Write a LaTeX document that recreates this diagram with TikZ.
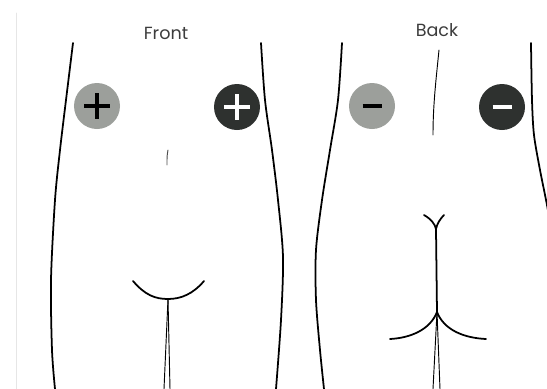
\documentclass[tikz,border=0pt]{standalone}
\usepackage{fontspec}
\setmainfont{Poppins}
\usetikzlibrary{calc}
\definecolor{signgrey}{HTML}{9C9F9B}
\definecolor{signdark}{HTML}{2E312F}
\definecolor{labelgrey}{HTML}{3C3C3C}
\definecolor{rulegrey}{HTML}{E6E6E6}

\begin{document}
\begin{tikzpicture}
			[line cap=round,line join=round,x=0.03cm,y=-0.03cm,
			outline/.style={line width=1.5pt,black},
			fine/.style={line width=0.8pt,black},
			sidelabel/.style={text=labelgrey,font=\fontsize{15}{18}\selectfont},
			pad/.style={circle,minimum size=1.38cm,inner sep=0pt},
			sign/.style={line width=3pt,line cap=butt}]
			\useasboundingbox (0,0) rectangle (547,389);
			\clip (0,0) rectangle (547,389);
			\draw [rulegrey,line width=0.8pt] (16,13) -- (16,389);
			% titles
			\node [sidelabel] (front) at (166,33) {Front};
			\node [sidelabel] (back) at (437,30) {Back};
			% front view
			\draw [outline] plot[smooth] coordinates {(73,43) (66,100) (60,150) (55,200) (51,280) (52,350) (55,389)};
			\draw [outline] plot[smooth] coordinates {(261,43) (265,100) (272,150) (278,200) (283,257) (281,320) (276,389)};
			\draw [fine,black!70] (168,150) .. controls (167,156) .. (167,165);
			\coordinate (fj) at (168,299);
			\draw [outline] (133,281) .. controls (145,295) and (155,299) .. (fj) .. controls (181,299) and (193,294) .. (204,281);
			\draw [fine] (fj) -- (164,389);
			\draw [fine] (fj) -- (170,389);
			% back view
			\draw [outline] plot[smooth] coordinates {(342,43) (338,100) (330,150) (322,200) (316,250) (316,300) (320,350) (324,389)};
			\draw [outline] plot[smooth] coordinates {(531,43) (532,100) (534,135) (540,170) (547,205) (553,240)};
			\draw [fine] (439,50) .. controls (436,80) and (433,105) .. (433,135);
			\coordinate (bf) at (436,229);
			\coordinate (bj) at (437,312);
			\draw [outline] (424,215) .. controls (431,219) and (435,224) .. (bf);
			\draw [outline] (444,215) .. controls (440,219) and (437,224) .. (bf);
			\draw [outline] (bf) -- (bj);
			\draw [outline] (bj) .. controls (430,330) and (410,338) .. (390,339);
			\draw [outline] (bj) .. controls (444,330) and (464,338) .. (486,339);
			\draw [fine] (bj) -- (433,389);
			\draw [fine] (bj) -- (440,389);
			% plus and minus pads
			\node [pad,fill=signgrey] (p1) at (97,106) {};
			\node [pad,fill=signdark] (p2) at (237,107) {};
			\node [pad,fill=signgrey] (m1) at (372,106) {};
			\node [pad,fill=signdark] (m2) at (502,107) {};
			\draw [sign,black] ($(p1)+(-13,0)$) -- ($(p1)+(13,0)$);
			\draw [sign,black] ($(p1)+(0,-13)$) -- ($(p1)+(0,13)$);
			\draw [sign,white] ($(p2)+(-13,0)$) -- ($(p2)+(13,0)$);
			\draw [sign,white] ($(p2)+(0,-13)$) -- ($(p2)+(0,13)$);
			\draw [sign,black] ($(m1)+(-9.5,0)$) -- ($(m1)+(9.5,0)$);
			\draw [sign,white] ($(m2)+(-9.5,0)$) -- ($(m2)+(9.5,0)$);
		\end{tikzpicture}
\end{document}
